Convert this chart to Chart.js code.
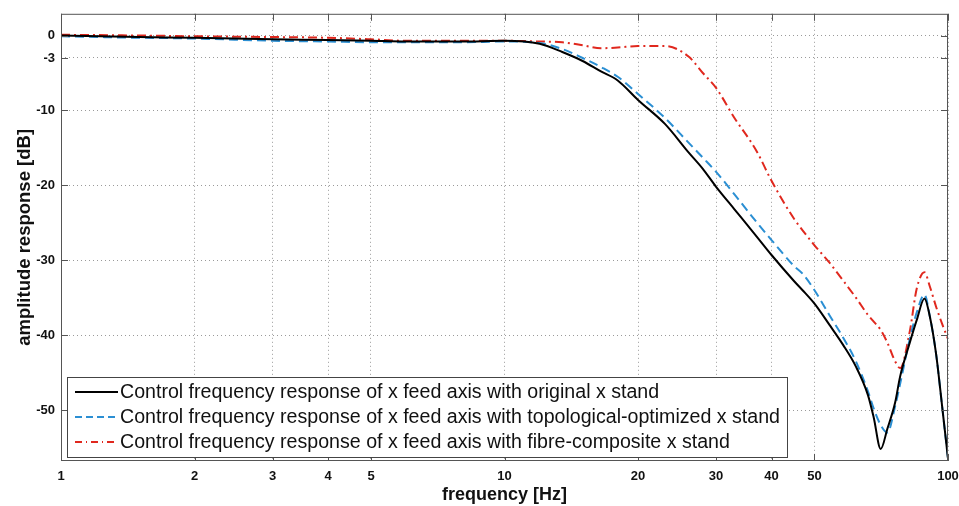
<!DOCTYPE html>
<html>
<head>
<meta charset="utf-8">
<script src="https://cdn.jsdelivr.net/npm/chart.js@4.4.0/dist/chart.umd.min.js"></script>
<style>
    html, body { margin: 0; padding: 0; background: #fff; }
    #wrap { width: 959px; height: 506px; position: relative; }
</style>
</head>
<body>
<div id="wrap"><canvas id="grafico"></canvas></div>
<script>
const frequencies = [1, 1.5, 2, 3, 4, 5, 6, 8, 10, 12, 13.5, 15, 16.5, 18, 20, 23, 26, 28, 30, 33, 37, 40, 45, 47, 50, 54, 58, 62, 66, 68, 70.5, 73, 76, 78, 82, 85, 88.5, 91, 94, 97, 100];

const originalStand = [0, -0.2, -0.3, -0.5, -0.6, -0.7, -0.8, -0.8, -0.7, -1.1, -2.2, -3.4, -4.8, -6.0, -8.6, -11.8, -15.6, -17.8, -20.2, -23.2, -26.8, -29.3, -32.8, -34.0, -35.8, -38.6, -41.3, -44.2, -48.0, -51.0, -55.2, -52.5, -49.0, -45.5, -41.0, -38.0, -35.1, -37.5, -42.5, -49.5, -56.5];
const topologicalStand = [-0.1, -0.3, -0.4, -0.7, -0.8, -0.9, -0.9, -0.9, -0.8, -1.0, -1.8, -3.0, -4.2, -5.5, -7.8, -11.0, -14.3, -16.3, -18.2, -21.2, -24.9, -27.3, -30.8, -31.8, -34.0, -37.3, -40.3, -43.5, -47.5, -49.8, -52.0, -53.0, -49.5, -46.5, -40.5, -37.0, -34.6, -37.5, -42.5, -49.5, -56.5];
const fibreStand = [0.1, 0, -0.1, -0.2, -0.3, -0.5, -0.7, -0.7, -0.7, -0.8, -0.9, -1.3, -1.7, -1.6, -1.4, -1.4, -2.8, -5.0, -7.0, -11.0, -15.4, -19.4, -24.5, -26.0, -28.0, -30.3, -32.7, -35.0, -37.3, -38.2, -39.3, -41.0, -43.5, -44.4, -39.5, -33.8, -31.6, -33.5, -36.2, -38.5, -40.5];

const seriesLabels = [
    'Control frequency response of x feed axis with original x stand',
    'Control frequency response of x feed axis with topological-optimized x stand',
    'Control frequency response of x feed axis with fibre-composite x stand'
];

const xTicks = [1, 2, 3, 4, 5, 10, 20, 30, 40, 50, 100];
const yTicks = [0, -3, -10, -20, -30, -40, -50];

function MontarPontos(valores) {
    return frequencies.map((f, i) => ({ x: f, y: valores[i] }));
}

// moldura, marcas internas e legenda no estilo matlab
const molduraPlugin = {
    id: 'moldura',
    afterDraw(chart) {
        const { ctx, chartArea: a, scales } = chart;
        ctx.save();
        ctx.strokeStyle = '#555';
        ctx.lineWidth = 1;
        ctx.setLineDash([]);
        ctx.strokeRect(a.left + 0.5, a.top + 0.5, a.right - a.left - 1, a.bottom - a.top - 1);

        ctx.beginPath();
        xTicks.forEach(t => {
            const px = Math.round(scales.x.getPixelForValue(t)) + 0.5;
            ctx.moveTo(px, a.bottom); ctx.lineTo(px, a.bottom - 7);
            ctx.moveTo(px, a.top); ctx.lineTo(px, a.top + 7);
        });
        yTicks.forEach(t => {
            const py = Math.round(scales.y.getPixelForValue(t)) + 0.5;
            ctx.moveTo(a.left, py); ctx.lineTo(a.left + 7, py);
            ctx.moveTo(a.right, py); ctx.lineTo(a.right - 7, py);
        });
        ctx.stroke();

        // legenda
        const caixa = { x: a.left + 6, y: a.bottom - 84, w: 720, h: 80 };
        ctx.fillStyle = '#fff';
        ctx.fillRect(caixa.x, caixa.y, caixa.w, caixa.h);
        ctx.strokeStyle = '#444';
        ctx.strokeRect(caixa.x + 0.5, caixa.y + 0.5, caixa.w, caixa.h);

        ctx.font = '19.6px "Liberation Sans", Arial, sans-serif';
        ctx.textBaseline = 'middle';
        chart.data.datasets.forEach((ds, i) => {
            const ly = caixa.y + 15 + i * 25;
            ctx.strokeStyle = ds.borderColor;
            ctx.lineWidth = 2;
            ctx.setLineDash(ds.borderDash ? [7, 4].concat(ds.borderDash.length > 2 ? [1, 4] : []) : []);
            ctx.beginPath();
            ctx.moveTo(caixa.x + 8, ly);
            ctx.lineTo(caixa.x + 51, ly);
            ctx.stroke();
            ctx.fillStyle = '#111';
            ctx.fillText(ds.label, caixa.x + 53, ly + 1);
        });
        ctx.restore();
    }
};

const config = {
    type: 'line',
    data: {
        datasets: [
            {
                label: seriesLabels[0],
                data: MontarPontos(originalStand),
                borderColor: '#000000',
                borderWidth: 2,
                pointRadius: 0,
                cubicInterpolationMode: 'monotone'
            },
            {
                label: seriesLabels[1],
                data: MontarPontos(topologicalStand),
                borderColor: '#2b8fd3',
                borderWidth: 2,
                borderDash: [9, 5],
                pointRadius: 0,
                cubicInterpolationMode: 'monotone'
            },
            {
                label: seriesLabels[2],
                data: MontarPontos(fibreStand),
                borderColor: '#e0281e',
                borderWidth: 2,
                borderDash: [9, 4, 2, 4],
                pointRadius: 0,
                cubicInterpolationMode: 'monotone'
            }
        ]
    },
    options: {
        responsive: true,
        maintainAspectRatio: false,
        animation: false,
        layout: { padding: { left: 0, right: 11, top: 10, bottom: 0 } },
        plugins: {
            legend: { display: false },
            tooltip: { enabled: false }
        },
        scales: {
            x: {
                type: 'logarithmic',
                min: 1,
                max: 100,
                afterBuildTicks: scale => { scale.ticks = xTicks.map(v => ({ value: v })); },
                afterFit: scale => {
                    scale.height = 45;
                    scale.paddingLeft = 0;
                    scale.paddingRight = 0;
                },
                ticks: {
                    autoSkip: false,
                    maxRotation: 0,
                    padding: 8,
                    color: '#111',
                    font: { family: '"Liberation Sans", Arial', size: 13, weight: 'bold' },
                    callback: v => String(v)
                },
                grid: { color: '#9a9a9a', lineWidth: 1, drawTicks: false },
                border: { display: false, dash: [1, 3] },
                title: {
                    display: true,
                    text: 'frequency [Hz]',
                    color: '#111',
                    padding: { top: 0, bottom: 0 },
                    font: { family: '"Liberation Sans", Arial', size: 18, weight: 'bold' }
                }
            },
            y: {
                type: 'linear',
                min: -56.8,
                max: 2.9,
                afterBuildTicks: scale => { scale.ticks = yTicks.map(v => ({ value: v })); },
                afterFit: scale => { scale.width = 61; },
                ticks: {
                    autoSkip: false,
                    padding: 6,
                    color: '#111',
                    font: { family: '"Liberation Sans", Arial', size: 13, weight: 'bold' },
                    callback: v => String(v)
                },
                grid: { color: '#9a9a9a', lineWidth: 1, drawTicks: false },
                border: { display: false, dash: [1, 3] },
                title: {
                    display: true,
                    text: 'amplitude response [dB]',
                    color: '#111',
                    padding: { top: 14, bottom: 0 },
                    font: { family: '"Liberation Sans", Arial', size: 18.5, weight: 'bold' }
                }
            }
        }
    },
    plugins: [molduraPlugin]
};

new Chart(document.getElementById('grafico').getContext('2d'), config);
</script>
</body>
</html>
